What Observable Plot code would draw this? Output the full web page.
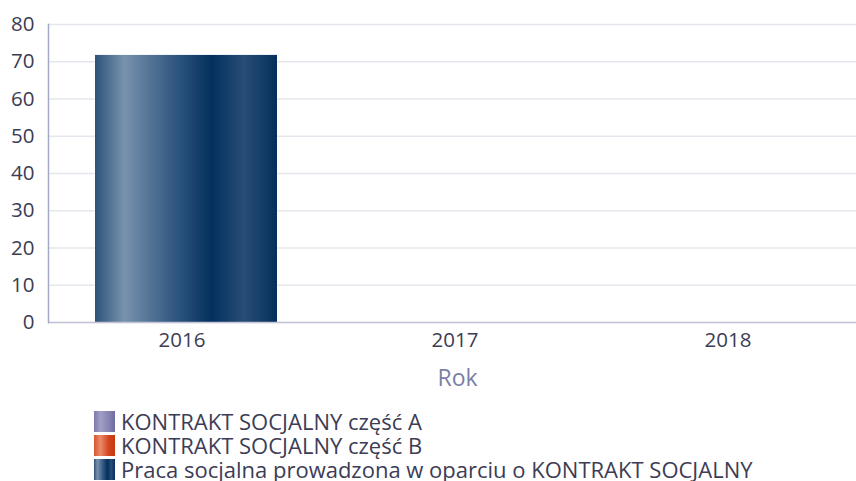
<!DOCTYPE html>
<html>
<head>
<meta charset="utf-8">
<script src="https://cdn.jsdelivr.net/npm/d3@7"></script>
<script src="https://cdn.jsdelivr.net/npm/@observablehq/plot@0.6"></script>
<style>
  html, body { margin: 0; padding: 0; background: #fff; }
  body { width: 856px; height: 481px; overflow: hidden; font-family: "Open Sans", sans-serif; }
  #legend { position: absolute; left: 94px; top: 409px; }
  .item { display: flex; align-items: center; height: 24px; font-size: 22px; line-height: 24px; color: #3c3c55; white-space: nowrap; }
  .sw { width: 21px; height: 21px; margin-right: 6px; flex: none; }
</style>
</head>
<body>
<div id="chart"></div>
<div id="legend"></div>
<script>
const years = ["2016", "2017", "2018"];
const series = ["KONTRAKT SOCJALNY część A", "KONTRAKT SOCJALNY część B", "Praca socjalna prowadzona w oparciu o KONTRAKT SOCJALNY"];
const valuesA = [0, 0, 0];
const valuesB = [0, 0, 0];
const valuesPraca = [71.7, 0, 0];
const yTicks = [0, 10, 20, 30, 40, 50, 60, 70, 80];
const xLabel = "Rok";

const gradients = [
  {id: "gA", stops: [[0, "#7d79aa"], [0.3, "#a19ec6"], [0.7, "#8784b3"], [1, "#6f6b9e"]]},
  {id: "gB", stops: [[0, "#d9562f"], [0.3, "#ea8a6c"], [0.7, "#d2461c"], [1, "#c3380c"]]},
  {id: "gP", stops: [[0, "#2d527a"], [0.16, "#7892ad"], [0.40, "#3a5f86"], [0.64, "#03305f"], [0.82, "#274e76"], [1, "#042e5c"]]}
];

const rows = [];
const allValues = [valuesA, valuesB, valuesPraca];
years.forEach((y, i) => series.forEach((s, j) => rows.push({year: y, series: s, value: allValues[j][i]})));

const svg = Plot.plot({
  width: 856,
  height: 405,
  marginLeft: 48,
  marginRight: 0,
  marginTop: 24,
  marginBottom: 83,
  style: {fontFamily: "'Open Sans', sans-serif", fontSize: "20.5px", color: "#3c3c55", background: "#fff"},
  x: {domain: years, range: [44.5, 864.5], padding: 0, label: null},
  y: {domain: [0, 80], ticks: yTicks, label: null},
  color: {domain: series, range: gradients.map(g => `url(#${g.id})`)},
  marks: [
    Plot.gridY(yTicks, {stroke: "#e6e6ef", strokeOpacity: 1, strokeWidth: 1.5}),
    Plot.barY(rows, {x: "year", y: "value", fill: "series", insetLeft: 50, insetRight: 41}),
    Plot.ruleY([0], {stroke: "#c3c5d7", strokeWidth: 1.5}),
    Plot.frame({anchor: "left", stroke: "#a6a9c6", strokeWidth: 1.5}),
    Plot.axisY(yTicks, {tickSize: 0, tickPadding: 14, fill: "#3c3c55", fontSize: 20.5}),
    Plot.axisX({tickSize: 0, tickPadding: 10, fill: "#3c3c55", fontSize: 20.5}),
    Plot.text([xLabel], {text: d => d, frameAnchor: "bottom", dx: 5, dy: 63, fill: "#7b7fa5", fontSize: 23})
  ]
});

const defs = d3.select(svg).insert("defs", ":first-child");
gradients.forEach(g => {
  const lg = defs.append("linearGradient").attr("id", g.id).attr("x1", "0").attr("x2", "1").attr("y1", "0").attr("y2", "0");
  g.stops.forEach(([o, c]) => lg.append("stop").attr("offset", o).attr("stop-color", c));
});
document.getElementById("chart").appendChild(svg);

const legend = document.getElementById("legend");
series.forEach((s, j) => {
  const item = document.createElement("div");
  item.className = "item";
  const sw = document.createElement("div");
  sw.className = "sw";
  sw.style.background = "linear-gradient(to right, " + gradients[j].stops.map(([o, c]) => `${c} ${o * 100}%`).join(", ") + ")";
  const t = document.createElement("span");
  t.textContent = s;
  item.appendChild(sw);
  item.appendChild(t);
  legend.appendChild(item);
});
</script>
</body>
</html>
